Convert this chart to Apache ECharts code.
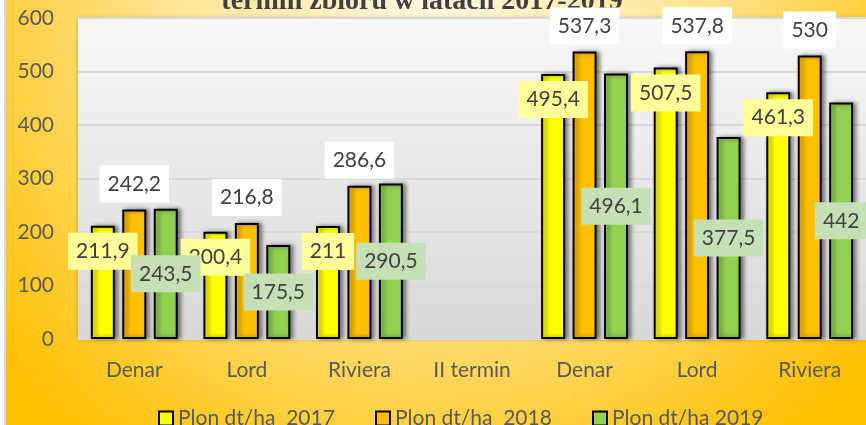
<!DOCTYPE html>
<html>
<head>
<meta charset="utf-8">
<script src="https://cdn.jsdelivr.net/npm/echarts@6/dist/echarts.min.js"></script>
<style>
  html, body { margin: 0; padding: 0; background: #fff; }
  #container-plon { width: 866px; height: 425px; }
</style>
</head>
<body>
<div id="container-plon"></div>
<script>
// categories: I termin (first three) + gap + II termin
var categories = ['Denar', 'Lord', 'Riviera', 'II termin', 'Denar', 'Lord', 'Riviera'];
var legendNames = ['Plon dt/ha  2017', 'Plon dt/ha  2018', 'Plon dt/ha 2019'];
var plon2017 = [211.9, 200.4, 211, null, 495.4, 507.5, 461.3];
var plon2018 = [242.2, 216.8, 286.6, null, 537.3, 537.8, 530];
var plon2019 = [243.5, 175.5, 290.5, null, 496.1, 377.5, 442];
var titleText = 'termin zbioru w latach 2017-2019';

var FONT = 'Lato';

function fmt(p) {
  return String(p.value).replace('.', ',');
}

function barItem(color) {
  return {
    color: color,
    borderColor: '#000',
    borderWidth: 2,
    shadowColor: 'rgba(0,0,0,0.45)',
    shadowBlur: 4,
    shadowOffsetX: 3
  };
}

function boxLabel(pos, dist, bg) {
  return {
    show: true,
    position: pos,
    distance: dist,
    formatter: fmt,
    fontFamily: FONT,
    fontSize: 21,
    color: '#404040',
    backgroundColor: bg,
    padding: [8, 8]
  };
}

// one legend per series so the items sit at fixed spots
var legendLeft = [153, 370, 587];
var legends = legendNames.map(function (name, i) {
  return {
    data: [name],
    left: legendLeft[i],
    top: 403,
    itemWidth: 14,
    itemHeight: 14,
    icon: 'rect',
    selectedMode: false,
    itemStyle: { borderColor: '#000', borderWidth: 2, shadowBlur: 0, shadowOffsetX: 0 },
    textStyle: { fontFamily: FONT, fontSize: 21, color: '#595959' }
  };
});

var dom = document.getElementById('container-plon');
var myChart = echarts.init(dom);
var option = {
  animation: false,
  graphic: [
    {
      type: 'rect',
      z: -10,
      silent: true,
      shape: { x: 6, y: 0, width: 860, height: 425 },
      style: {
        fill: new echarts.graphic.RadialGradient(433, 0, 560, [
          { offset: 0, color: '#FFF8E0' },
          { offset: 0.45, color: '#FFE699' },
          { offset: 1, color: '#FFC000' }
        ], true)
      }
    },
    {
      type: 'rect',
      z: -9,
      silent: true,
      shape: { x: 4, y: 0, width: 2, height: 425 },
      style: { fill: '#d9d9d9' }
    },
    {
      type: 'text',
      silent: true,
      x: 422,
      y: -12,
      style: {
        text: titleText,
        fontFamily: 'Liberation Serif',
        fontWeight: 'bold',
        fontSize: 28,
        fill: '#404040',
        textAlign: 'center',
        textVerticalAlign: 'top'
      }
    }
  ],
  grid: {
    left: 78,
    right: -6,
    top: 18,
    bottom: 86,
    show: true,
    borderWidth: 0,
    backgroundColor: new echarts.graphic.LinearGradient(0, 0, 0, 1, [
      { offset: 0, color: '#f8f8f8' },
      { offset: 1, color: '#d8d8d8' }
    ]),
    shadowColor: 'rgba(0,0,0,0.25)',
    shadowBlur: 4
  },
  legend: legends,
  xAxis: {
    type: 'category',
    data: categories,
    axisLine: { show: false },
    axisTick: { show: false },
    axisLabel: { fontFamily: FONT, fontSize: 21, color: '#595959', margin: 21 }
  },
  yAxis: {
    type: 'value',
    min: 0,
    max: 600,
    interval: 100,
    axisLine: { show: false },
    axisTick: { show: false },
    axisLabel: { fontFamily: FONT, fontSize: 21, color: '#595959', margin: 24 },
    splitLine: { lineStyle: { color: '#d9d9d9', width: 2 } }
  },
  series: [
    {
      name: legendNames[0],
      type: 'bar',
      data: plon2017,
      barWidth: 24,
      barGap: '31%',
      itemStyle: barItem('#FFFF00'),
      label: boxLabel('insideTop', 7, '#FFFF99')
    },
    {
      name: legendNames[1],
      type: 'bar',
      data: plon2018,
      barWidth: 24,
      barGap: '31%',
      itemStyle: barItem('#FFC000'),
      label: boxLabel('top', 7, '#FFFFFF')
    },
    {
      name: legendNames[2],
      type: 'bar',
      data: plon2019,
      barWidth: 24,
      barGap: '31%',
      itemStyle: barItem('#92D050'),
      label: boxLabel('inside', 5, '#C5E0B4')
    }
  ]
};
myChart.setOption(option);
</script>
</body>
</html>
